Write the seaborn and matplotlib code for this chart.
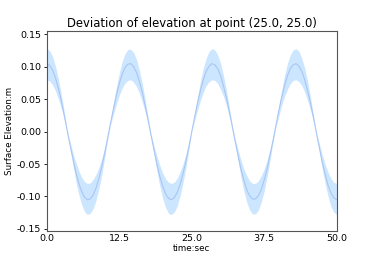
import numpy as np
import pandas as pd
import matplotlib
import matplotlib.pyplot as plt
import seaborn as sns

matplotlib.use('Agg')

# sample times, every half second
time_sec = np.arange(0, 50.5, 0.5)

# mean surface elevation (m)
elev_mean = [
    0.105, 0.102, 0.095, 0.083, 0.067, 0.048, 0.026, 0.003, -0.020, -0.041,
    -0.062, -0.079, -0.092, -0.101, -0.105, -0.104, -0.098, -0.087, -0.072, -0.054,
    -0.033, -0.010, 0.013, 0.035, 0.056, 0.074, 0.088, 0.099, 0.104, 0.105,
    0.100, 0.091, 0.077, 0.060, 0.039, 0.017, -0.006, -0.028, -0.050, -0.069,
    -0.084, -0.096, -0.103, -0.105, -0.102, -0.094, -0.082, -0.065, -0.046, -0.024,
    -0.001, 0.022, 0.044, 0.063, 0.080, 0.093, 0.101, 0.105, 0.103, 0.097,
    0.086, 0.070, 0.052, 0.031, 0.008, -0.015, -0.037, -0.058, -0.075, -0.090,
    -0.099, -0.104, -0.104, -0.099, -0.090, -0.075, -0.058, -0.037, -0.015, 0.008,
    0.031, 0.052, 0.070, 0.086, 0.097, 0.103, 0.105, 0.101, 0.093, 0.080,
    0.063, 0.044, 0.022, -0.001, -0.024, -0.046, -0.065, -0.082, -0.094, -0.102,
    -0.105,
]

# upper edge of the shaded band
elev_upper = [
    0.128, 0.125, 0.116, 0.101, 0.082, 0.058, 0.032, 0.004, -0.015, -0.032,
    -0.047, -0.060, -0.070, -0.077, -0.080, -0.079, -0.074, -0.066, -0.055, -0.041,
    -0.025, -0.008, 0.015, 0.043, 0.068, 0.090, 0.108, 0.120, 0.127, 0.127,
    0.122, 0.111, 0.094, 0.073, 0.048, 0.021, -0.004, -0.022, -0.038, -0.052,
    -0.064, -0.073, -0.078, -0.080, -0.078, -0.072, -0.062, -0.050, -0.035, -0.018,
    -0.001, 0.026, 0.053, 0.077, 0.098, 0.113, 0.124, 0.128, 0.126, 0.118,
    0.105, 0.086, 0.063, 0.037, 0.010, -0.011, -0.028, -0.044, -0.058, -0.068,
    -0.076, -0.080, -0.080, -0.076, -0.068, -0.058, -0.044, -0.028, -0.011, 0.010,
    0.037, 0.063, 0.086, 0.105, 0.118, 0.126, 0.128, 0.124, 0.113, 0.098,
    0.077, 0.053, 0.026, -0.001, -0.018, -0.035, -0.050, -0.062, -0.072, -0.078,
    -0.080,
]

# lower edge of the shaded band
elev_lower = [
    0.080, 0.078, 0.072, 0.063, 0.051, 0.036, 0.020, 0.003, -0.024, -0.051,
    -0.075, -0.096, -0.112, -0.123, -0.128, -0.126, -0.119, -0.106, -0.088, -0.066,
    -0.040, -0.013, 0.010, 0.027, 0.042, 0.056, 0.067, 0.075, 0.079, 0.080,
    0.076, 0.069, 0.059, 0.045, 0.030, 0.013, -0.007, -0.035, -0.061, -0.084,
    -0.103, -0.117, -0.126, -0.128, -0.124, -0.115, -0.099, -0.079, -0.056, -0.029,
    -0.001, 0.017, 0.033, 0.048, 0.061, 0.071, 0.077, 0.080, 0.079, 0.074,
    0.065, 0.054, 0.040, 0.023, 0.006, -0.018, -0.045, -0.070, -0.092, -0.109,
    -0.121, -0.127, -0.127, -0.121, -0.109, -0.092, -0.070, -0.045, -0.018, 0.006,
    0.023, 0.040, 0.054, 0.065, 0.074, 0.079, 0.080, 0.077, 0.071, 0.061,
    0.048, 0.033, 0.017, -0.001, -0.029, -0.056, -0.079, -0.099, -0.115, -0.124,
    -0.128,
]

x_ticks = [0.0, 12.5, 25.0, 37.5, 50.0]
y_ticks = [0.15, 0.10, 0.05, 0.00, -0.05, -0.10, -0.15]

df = pd.DataFrame({'time': time_sec, 'mean': elev_mean,
                   'upper': elev_upper, 'lower': elev_lower})

sns.set_style('white')
plt.rcParams['font.family'] = ['DejaVu Sans']
plt.rcParams['axes.unicode_minus'] = False
plt.rcParams['text.color'] = 'black'
plt.rcParams['xtick.color'] = 'black'
plt.rcParams['ytick.color'] = 'black'
plt.rcParams['axes.labelcolor'] = 'black'

fig, ax = plt.subplots(figsize=(3.74, 2.6), dpi=100)
fig.subplots_adjust(left=0.125, right=0.9, bottom=0.11, top=0.88)

ax.fill_between(df['time'], df['lower'], df['upper'], color='#cce6ff', linewidth=0)
sns.lineplot(data=df, x='time', y='mean', ax=ax, color='#a9c6f3', linewidth=0.8)

ax.set_xlim(0, 50)
ax.set_ylim(-0.154, 0.155)
ax.set_xticks(x_ticks)
ax.set_yticks(y_ticks)
ax.tick_params(axis='x', length=0, pad=2, labelsize=6.8)
ax.tick_params(axis='y', length=2.5, width=0.6, pad=1.5, labelsize=6.8, left=True)
for s in ax.spines.values():
    s.set_color('#555555')
    s.set_linewidth(0.8)

ax.set_title('Deviation of elevation at point (25.0, 25.0)', fontsize=8.4, pad=3)
ax.set_xlabel('time:sec', fontsize=6.3, labelpad=0.5)
ax.set_ylabel('Surface Elevation:m', fontsize=6.3, labelpad=2)

fig.savefig('out.png', dpi=100)
